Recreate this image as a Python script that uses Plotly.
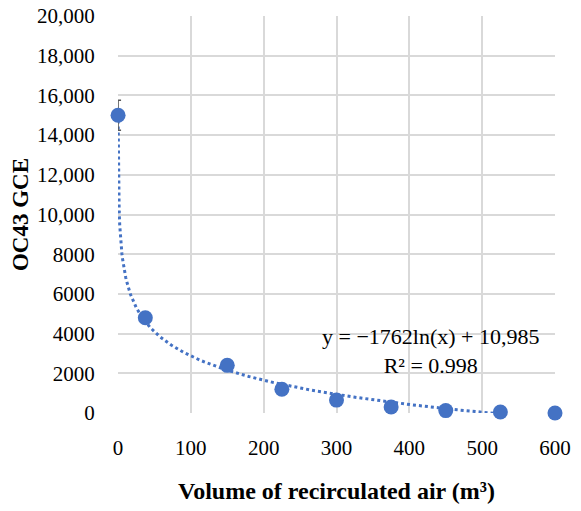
import numpy as np
import plotly.graph_objects as go

# Data
volume = [0.1, 37.5, 150, 225, 300, 375, 450, 525, 600]
gce = [15000, 4800, 2400, 1200, 650, 300, 120, 50, 0]
gce_err = [750, 0, 0, 0, 0, 0, 0, 0, 0]
trend_a = -1762
trend_b = 10985
r2 = 0.998
y_ticks = [0, 2000, 4000, 6000, 8000, 10000, 12000, 14000, 16000, 18000, 20000]
y_ticktext = ["0", "2000", "4000", "6000", "8000", "10,000", "12,000", "14,000", "16,000", "18,000", "20,000"]
x_ticks = [0, 100, 200, 300, 400, 500, 600]

blue = "#4472C4"
font_family = "Liberation Serif, DejaVu Serif, serif"

xt = np.linspace(min(volume), max(volume), 800)
yt = trend_a * np.log(xt) + trend_b

fig = go.Figure()
fig.add_trace(go.Scatter(
    x=xt, y=yt, mode="lines",
    line=dict(color=blue, width=3, dash="dot"),
    hoverinfo="skip", showlegend=False, cliponaxis=True,
))
fig.add_trace(go.Scatter(
    x=volume, y=gce, mode="markers",
    marker=dict(color=blue, size=15),
    error_y=dict(type="data", array=gce_err, visible=True, color="#595959", thickness=1.5, width=3),
    showlegend=False, cliponaxis=False,
))

fig.add_annotation(
    x=430, y=3100, xref="x", yref="y",
    text=f"y = \u22121762ln(x) + 10,985<br>R\u00b2 = {r2}",
    showarrow=False, align="center",
    font=dict(family=font_family, size=22, color="black"),
)

fig.update_layout(
    width=581, height=511,
    margin=dict(l=118, r=26, t=16, b=98, autoexpand=False),
    paper_bgcolor="white", plot_bgcolor="white",
    font=dict(family=font_family, size=21, color="black"),
)
fig.update_xaxes(
    range=[0, 600], tickvals=x_ticks,
    showgrid=True, gridcolor="#d9d9d9", gridwidth=1.5,
    zeroline=False, showline=False,
    ticks="outside", ticklen=16, tickcolor="rgba(0,0,0,0)",
    title=dict(text="<b>Volume of recirculated air (m\u00b3)</b>", font=dict(size=24), standoff=22),
)
fig.update_yaxes(
    range=[0, 20000], tickvals=y_ticks, ticktext=y_ticktext,
    showgrid=True, gridcolor="#d9d9d9", gridwidth=1.5,
    zeroline=False, showline=False,
    ticks="outside", ticklen=18, tickcolor="rgba(0,0,0,0)",
    title=dict(text="<b>OC43 GCE</b>", font=dict(size=23), standoff=1),
)

fig.write_html("out.html")
